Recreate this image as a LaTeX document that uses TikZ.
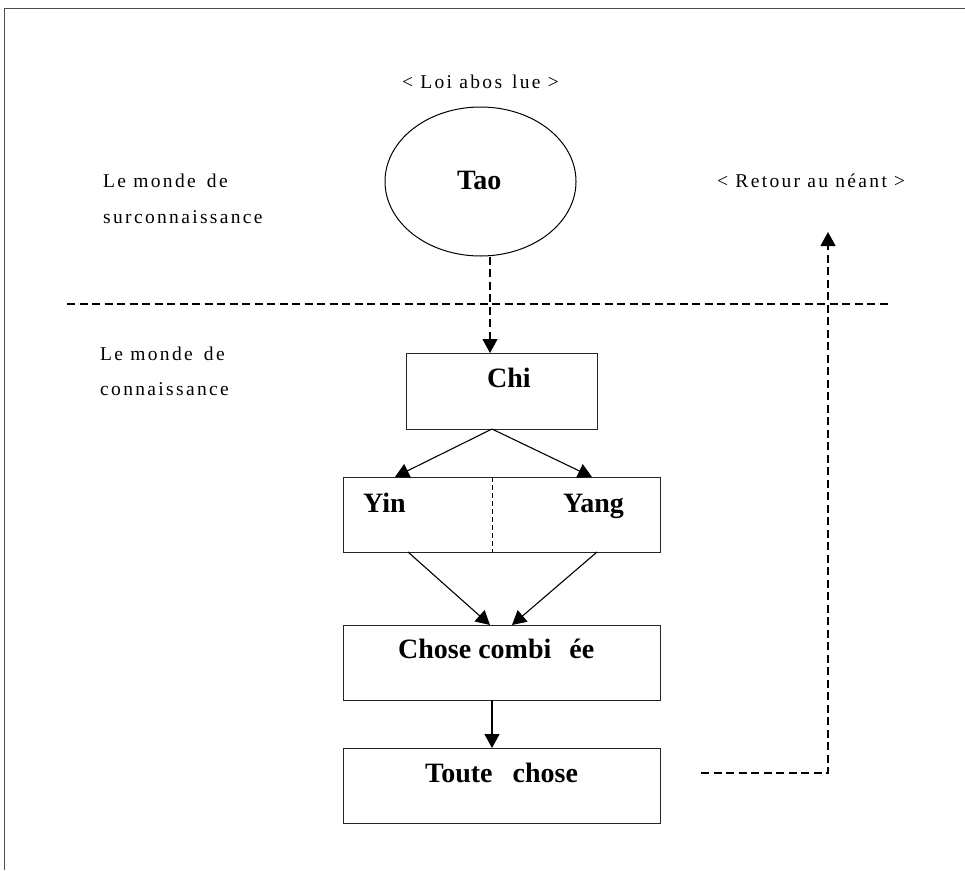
\documentclass[tikz,border=0pt]{standalone}
\usepackage{fontspec}
\setmainfont{Liberation Serif}
\newfontfamily\spacedfont[LetterSpace=12]{Liberation Serif}
\usetikzlibrary{arrows.meta,shapes.geometric}

\tikzset{
  box/.style={draw=black!85, line width=1pt, rectangle, inner sep=0pt},
  oval/.style={draw, line width=1pt, ellipse, inner sep=0pt},
  lbl/.style={anchor=base west, inner sep=0pt, font=\spacedfont\fontsize{19.5}{22}\selectfont},
  ttl/.style={anchor=base west, inner sep=0pt, font=\bfseries\fontsize{28}{30}\selectfont},
  dashline/.style={line width=1.1pt, dash pattern=on 8pt off 4.5pt},
  shortdash/.style={line width=1pt, dash pattern=on 5pt off 3pt},
  arr/.style={line width=1.1pt, -{Triangle[width=15pt,length=14pt]}},
  frame/.style={line width=1pt, draw=black!70}
}

\begin{document}
\begin{tikzpicture}[x=1pt,y=-1pt]
  \useasboundingbox (0,0) rectangle (965,870);

  % outer frame (top and left edges)
  \coordinate (ftl) at (4,8);
  \coordinate (ftr) at (965,8);
  \coordinate (fbl) at (4,870);
  \draw[frame] (ftr) -- (ftl) -- (fbl);

  % upper world
  \node[lbl] (loi) at (402,88) {< Loi abos\hspace{10pt}lue >};
  \node[oval, minimum width=191pt, minimum height=149pt] (tao) at (480.5,181.5) {};
  \node[ttl] (taotxt) at (457,189) {Tao};
  \node[lbl] (sup1) at (103,187) {Le monde\hspace{4pt} de};
  \node[lbl] (sup2) at (103,223) {surconnaissance};
  \node[lbl] (retour) at (717,187) {< Retour au néant >};

  % separation between the two worlds
  \coordinate (sepL) at (67,304);
  \coordinate (sepR) at (890,304);
  \draw[dashline] (sepL) -- (sepR);

  % lower world
  \node[lbl] (inf1) at (100,360) {Le monde\hspace{4pt} de};
  \node[lbl] (inf2) at (100,395) {connaissance};

  \node[box, minimum width=191pt, minimum height=76pt] (chi) at (501.5,391) {};
  \node[ttl] (chitxt) at (487,387) {Chi};

  \node[box, minimum width=317pt, minimum height=75pt] (yy) at (501.5,514.5) {};
  \coordinate (divT) at (492,477);
  \coordinate (divB) at (492,552);
  \draw[shortdash] (divT) -- (divB);
  \node[ttl] (yin) at (363,512) {Yin};
  \node[ttl] (yang) at (563,512) {Yang};

  \node[box, minimum width=317pt, minimum height=75pt] (comb) at (501.5,662.5) {};
  \node[ttl] (combtxt) at (398,658) {Chose combi\hspace{18pt}ée};

  \node[box, minimum width=317pt, minimum height=75pt] (toute) at (501.5,785.5) {};
  \node[ttl] (toutetxt) at (425,782) {Toute\hspace{20pt}chose};

  % connectors
  \coordinate (chiin) at (490,353);
  \draw[dashline, arr] (tao.south -| chiin) -- (chiin);

  \coordinate (chiout) at (492,429);
  \coordinate (yinin) at (395,477);
  \coordinate (yangin) at (592,477);
  \draw[arr] (chiout) -- (yinin);
  \draw[arr] (chiout) -- (yangin);

  \coordinate (yinout) at (408,552);
  \coordinate (yangout) at (597,552);
  \coordinate (combinL) at (490,625);
  \coordinate (combinR) at (512,625);
  \draw[arr] (yinout) -- (combinL);
  \draw[arr] (yangout) -- (combinR);

  \coordinate (combout) at (492,700);
  \coordinate (toutein) at (492,748);
  \draw[arr] (combout) -- (toutein);

  % return path
  \coordinate (retA) at (701,773);
  \coordinate (retB) at (828,773);
  \coordinate (retC) at (828,232);
  \draw[dashline, arr] (retA) -- (retB) -- (retC);
\end{tikzpicture}
\end{document}
